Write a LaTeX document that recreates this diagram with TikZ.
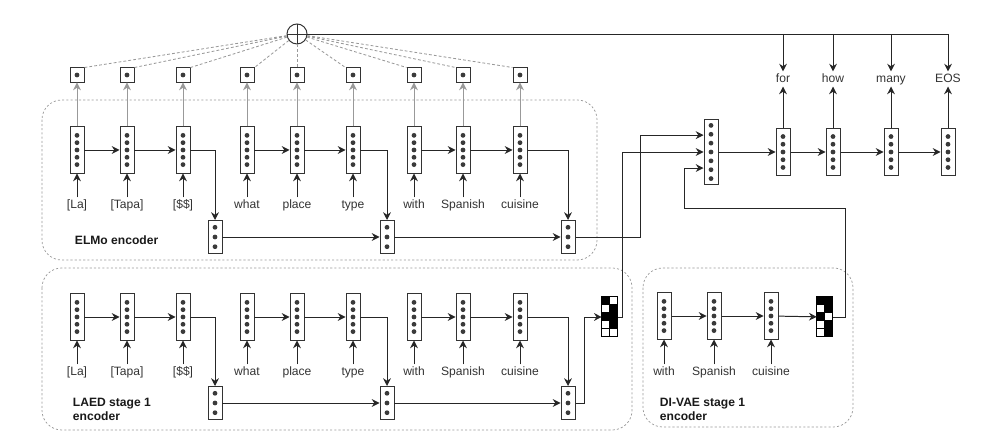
\documentclass[tikz,border=0pt]{standalone}
\usepackage{fontspec}
\setmainfont{Liberation Sans}
\usepackage{xcolor}
\usetikzlibrary{positioning,arrows.meta,calc,shapes}

\definecolor{dotgray}{HTML}{3A3A3A}
\definecolor{wiregray}{HTML}{999999}
\definecolor{inkgray}{HTML}{333333}

% dots inside a vector box: node, count, spacing
\newcommand{\putdots}[3]{\foreach \k in {1,...,#2} \fill[dotgray] ([yshift={((#2+1)/2-\k)*#3}]#1.center) circle[radius=1.7pt];}

\begin{document}
\begin{tikzpicture}[x=0.025cm,y=-0.025cm,font=\fontsize{8.6}{10}\selectfont]
\useasboundingbox (0,0) rectangle (1000,444);
\tikzset{
  vec/.style={draw=inkgray,line width=0.7pt,fill=white,minimum width=0.35cm,inner sep=0pt},
  tall/.style={vec,minimum height=1.15cm},
  dec/.style={vec,minimum height=1.175cm},
  agg/.style={vec,minimum height=0.825cm},
  big/.style={vec,minimum height=1.6cm},
  topbox/.style={vec,minimum height=0.35cm},
  arr/.style={-{Stealth[length=5.5pt,width=5.5pt]},line width=0.7pt,draw=black!85},
  garr/.style={arr,draw=wiregray},
  wire/.style={line width=0.7pt,draw=black!85},
  gdash/.style={draw=wiregray,dash pattern=on 2pt off 1.5pt,line width=0.6pt},
  frame/.style={draw=wiregray,dash pattern=on 1.5pt off 1.5pt,rounded corners=14pt,line width=0.5pt},
  lbl/.style={inner sep=1pt,text=inkgray,text height=6.5pt,text depth=1.8pt},
  ttl/.style={font=\fontsize{8.6}{10}\selectfont\bfseries,align=left,anchor=west,text=black!90},
  zbox/.style={minimum width=0.4cm,minimum height=1cm,inner sep=0pt}
}
%containers
\draw[frame] (42,100) rectangle (597,260);
\draw[frame] (42,268) rectangle (632,430);
\draw[frame] (643,268) rectangle (853,427);
\node[ttl] (t-elmo) at (70,240) {ELMo encoder};
\node[ttl] (t-laed) at (68,409) {LAED stage 1\\encoder};
\node[ttl] (t-divae) at (655,409) {DI-VAE stage 1\\encoder};

%ELMo and LAED rows
\foreach \x/\w [count=\i] in {77/{[La]},127/{[Tapa]},183/{[\$\$]},247/what,297/place,353/type,414/with,463/Spanish,520/cuisine} {
  \node[tall] (m\i) at (\x,150) {};
  \putdots{m\i}{5}{5.2pt}
  \node[topbox] (e\i) at (\x,75) {};
  \putdots{e\i}{1}{0pt}
  \node[lbl] (mw\i) at (\x,205) {\w};
  \draw[arr] (mw\i) -- (m\i);
  \draw[garr] (m\i) -- (e\i);
  \node[tall] (l\i) at (\x,317) {};
  \putdots{l\i}{5}{5.2pt}
  \node[lbl] (lw\i) at (\x,372) {\w};
  \draw[arr] (lw\i) -- (l\i);
}
\foreach \a/\b in {1/2,2/3,4/5,5/6,7/8,8/9} {
  \draw[arr] (m\a) -- (m\b);
  \draw[arr] (l\a) -- (l\b);
}
\foreach \x/\j/\c in {215/1/3,387/2/6,568/3/9} {
  \node[agg] (ms\j) at (\x,237) {};
  \putdots{ms\j}{3}{6.9pt}
  \node[agg] (ls\j) at (\x,403) {};
  \putdots{ls\j}{3}{6.9pt}
  \draw[arr] (m\c.east) -| (ms\j);
  \draw[arr] (l\c.east) -| (ls\j);
}
\draw[arr] (ms1) -- (ms2);
\draw[arr] (ms2) -- (ms3);
\draw[arr] (ls1) -- (ls2);
\draw[arr] (ls2) -- (ls3);

%sum node
\node[draw=inkgray,circle,minimum size=0.5cm,inner sep=0pt,line width=0.7pt,
  path picture={\draw[inkgray,line width=0.7pt] (path picture bounding box.north) -- (path picture bounding box.south)
  (path picture bounding box.west) -- (path picture bounding box.east);}] (plus) at (297,34) {};
\foreach \i in {1,2,3,4} \draw[gdash] (plus) -- (e\i.north east);
\draw[gdash] (plus) -- (e5);
\foreach \i in {6,7,8,9} \draw[gdash] (plus) -- (e\i.north west);

%DI-VAE row
\foreach \x/\w [count=\i] in {664/with,714/Spanish,771/cuisine} {
  \node[tall] (v\i) at (\x,316) {};
  \putdots{v\i}{5}{5.2pt}
  \node[lbl] (vw\i) at (\x,372) {\w};
  \draw[arr] (vw\i) -- (v\i);
}
\draw[arr] (v1) -- (v2);
\draw[arr] (v2) -- (v3);

%discrete codes
\node[zbox] (laedz) at (610,317) {};
\node[zbox] (divz) at (825,317) {};
\foreach \r/\a/\b in {0/black/white,1/white/black,2/black/black,3/white/black,4/white/white} {
  \draw[line width=0.5pt,fill=\a] ($(laedz.north west)+(0,8*\r)$) rectangle ++(8,8);
  \draw[line width=0.5pt,fill=\b] ($(laedz.north west)+(8,8*\r)$) rectangle ++(8,8);
}
\foreach \r/\a/\b in {0/black/black,1/white/black,2/black/white,3/white/black,4/white/black} {
  \draw[line width=0.5pt,fill=\a] ($(divz.north west)+(0,8*\r)$) rectangle ++(8,8);
  \draw[line width=0.5pt,fill=\b] ($(divz.north west)+(8,8*\r)$) rectangle ++(8,8);
}
\draw[arr] (v3) -- (divz);
\draw[arr] (ls3.east) -- ++(9,0) |- (laedz.west);

%decoder
\node[big] (hz) at (711,152) {};
\putdots{hz}{7}{6.3pt}
\foreach \x/\w [count=\i] in {783/for,833/how,891/many,948/EOS} {
  \node[dec] (d\i) at (\x,152) {};
  \putdots{d\i}{5}{5.5pt}
  \node[lbl] (o\i) at (\x,79) {\w};
  \coordinate (t\i) at (\x,34);
  \draw[arr] (d\i) -- (o\i);
  \draw[arr] (t\i) -- (o\i);
}
\draw[wire] (plus) -- (t4);
\draw[arr] (hz) -- (d1);
\draw[arr] (d1) -- (d2);
\draw[arr] (d2) -- (d3);
\draw[arr] (d3) -- (d4);

%inputs to decoder
\draw[arr] (ms3.east) -- ++(65,0) |- ([yshift=12pt]hz.west);
\draw[arr] (laedz.east) -- ++(4,0) |- (hz.west);
\draw[arr] (divz.east) -- ++(12,0) |- (684,208) |- ([yshift=-11.4pt]hz.west);
\end{tikzpicture}
\end{document}
